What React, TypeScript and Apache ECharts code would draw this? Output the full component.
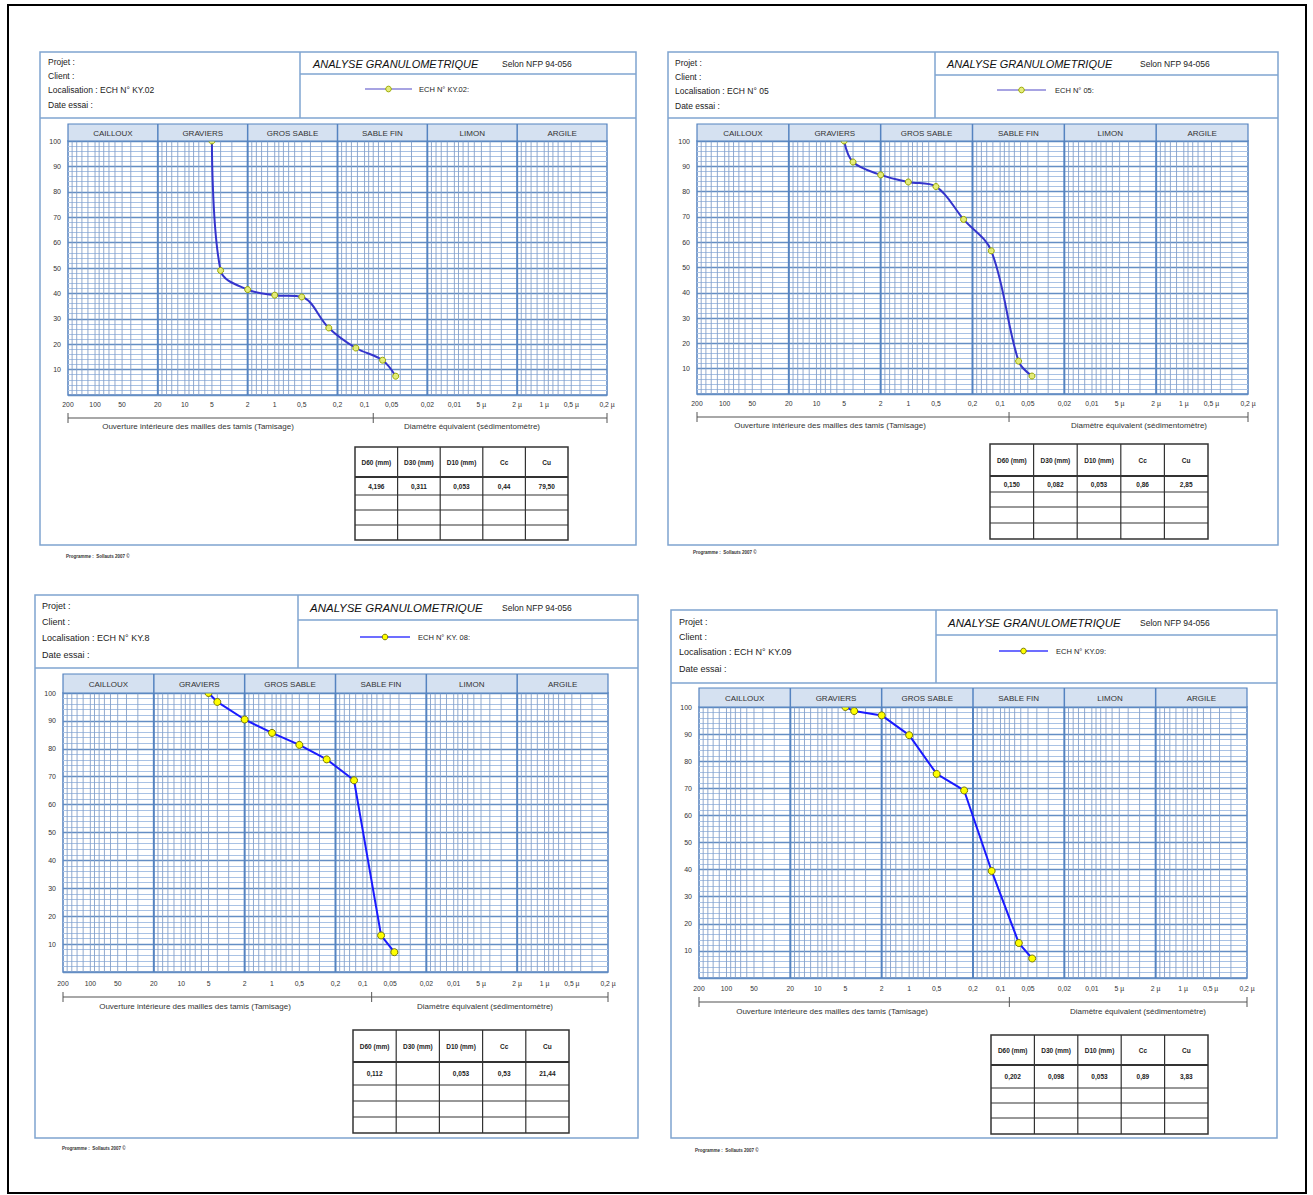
import React, { useEffect, useRef } from 'react';
import * as echarts from 'echarts';

const W = 1313;
const H = 1195;
const FONT = "'Liberation Sans', Arial, sans-serif";

// ---- data ----
const sieveSizes = [5, 4, 2, 1, 0.5, 0.25, 0.125, 0.063, 0.045];
const passingKY02 = [100, 49, 41.5, 39.3, 38.6, 26.4, 18.5, 13.7, 7.4];
const passing05 = [100, 91.7, 86.6, 83.8, 82, 69, 56.6, 13, 7.1];
const passingKY08 = [100, 96.8, 90.5, 85.7, 81.4, 76.2, 68.7, 13.1, 7.1];
const passingKY09 = [100, 98.5, 96.9, 89.6, 75.3, 69.2, 39.5, 12.9, 7.2];

const sampleNames = ['ECH N° KY.02:', 'ECH N° 05:', 'ECH N° KY. 08:', 'ECH N° KY.09:'];
const locations = ['ECH N° KY.02', 'ECH N° 05', 'ECH N° KY.8', 'ECH N° KY.09'];

const tableHeaders = ['D60 (mm)', 'D30 (mm)', 'D10 (mm)', 'Cc', 'Cu'];
const tableKY02 = ['4,196', '0,311', '0,053', '0,44', '79,50'];
const table05 = ['0,150', '0,082', '0,053', '0,86', '2,85'];
const tableKY08 = ['0,112', '', '0,053', '0,53', '21,44'];
const tableKY09 = ['0,202', '0,098', '0,053', '0,89', '3,83'];

const sectionNames = ['CAILLOUX', 'GRAVIERS', 'GROS SABLE', 'SABLE FIN', 'LIMON', 'ARGILE'];
const sectionBounds = [200, 20, 2, 0.2, 0.02, 0.002, 0.0002];
const xTickValues = [200, 100, 50, 20, 10, 5, 2, 1, 0.5, 0.2, 0.1, 0.05, 0.02, 0.01, 0.005, 0.002, 0.001, 0.0005, 0.0002];
const xTickLabels = ['200', '100', '50', '20', '10', '5', '2', '1', '0,5', '0,2', '0,1', '0,05', '0,02', '0,01', '5 µ', '2 µ', '1 µ', '0,5 µ', '0,2 µ'];
const minorMultipliers = [3, 4, 5, 6, 7, 8, 9, 10, 12, 14, 16, 18];
const sieveLimit = 0.08;
const headerLabels = ['Projet :', 'Client :', 'Localisation : ', 'Date essai :'];

// ---- layout ----
const layouts = [
  {
    frame: [40, 52, 596, 493], split: 300, titleBottom: 74, headBottom: 118,
    headX: 48, headYs: [62, 76, 90, 105], headSize: 8.5,
    title: [313, 64], titleSize: 11, selon: [502, 64],
    legend: [365, 412, 89, 419],
    plot: [68, 141, 539, 254], stripTop: 124,
    tickY: 404, bracketY: 418, noteY: 426, notesX: [198, 472],
    table: [355, 447, 213], rows: [30, 18, 15, 15, 15], footer: [66, 556],
    smooth: true, lineColor: '#3434cc', legendColor: '#8a84d8', markerFill: '#e4ec7a', markerStroke: '#9aa800',
  },
  {
    frame: [668, 52, 610, 493], split: 935, titleBottom: 75, headBottom: 118,
    headX: 675, headYs: [63, 77, 91, 106], headSize: 8.5,
    title: [947, 64], titleSize: 11, selon: [1140, 64],
    legend: [997, 1046, 90, 1055],
    plot: [697, 141, 551, 253], stripTop: 124,
    tickY: 403, bracketY: 417, noteY: 425, notesX: [830, 1139],
    table: [990, 444, 218], rows: [32, 16, 15, 16, 16], footer: [693, 552],
    smooth: true, lineColor: '#3434cc', legendColor: '#8a84d8', markerFill: '#e4ec7a', markerStroke: '#9aa800',
  },
  {
    frame: [35, 595, 603, 543], split: 298, titleBottom: 620, headBottom: 668,
    headX: 42, headYs: [606, 622, 638, 655], headSize: 9,
    title: [310, 608], titleSize: 11.5, selon: [502, 608],
    legend: [360, 410, 637, 418],
    plot: [63, 693, 545, 279], stripTop: 674,
    tickY: 983, bracketY: 997, noteY: 1006, notesX: [195, 485],
    table: [353, 1030, 216], rows: [32, 23, 16, 16, 16], footer: [62, 1148],
    smooth: false, lineColor: '#1a1aff', legendColor: '#3c3cff', markerFill: '#ffff00', markerStroke: '#7a7a00',
  },
  {
    frame: [671, 610, 606, 528], split: 936, titleBottom: 635, headBottom: 683,
    headX: 679, headYs: [622, 637, 652, 669], headSize: 9,
    title: [948, 623], titleSize: 11.5, selon: [1140, 623],
    legend: [999, 1048, 651, 1056],
    plot: [699, 707, 548, 271], stripTop: 688,
    tickY: 988, bracketY: 1002, noteY: 1011, notesX: [832, 1138],
    table: [991, 1035, 217], rows: [30, 23, 15, 15, 16], footer: [695, 1150],
    smooth: false, lineColor: '#1a1aff', legendColor: '#3c3cff', markerFill: '#ffff00', markerStroke: '#7a7a00',
  },
];

export default function App() {
  const ref = useRef<HTMLDivElement>(null);

  useEffect(() => {
    if (!ref.current) return;
    document.body.style.margin = '0';
    const chart = echarts.init(ref.current, undefined, { renderer: 'svg' });
    const passing = [passingKY02, passing05, passingKY08, passingKY09];
    const tables = [tableKY02, table05, tableKY08, tableKY09];

    const verticalLines: number[][] = [];
    for (let s = 0; s < sectionNames.length; s++) {
      const base = sectionBounds[s + 1] / 2;
      minorMultipliers.forEach((m) => verticalLines.push([base * m, 0]));
      if (s > 0) verticalLines.push([sectionBounds[s], 1]);
    }

    const series: any[] = [];
    layouts.forEach((L, i) => {
      series.push({
        type: 'custom', xAxisIndex: i, yAxisIndex: i, silent: true, clip: false, z: 1,
        data: verticalLines, encode: { x: 0, y: 1 },
        renderItem: (_p: any, api: any) => {
          const v = api.value(0);
          const major = api.value(1) === 1;
          const a = api.coord([v, 100]);
          const b = api.coord([v, 0]);
          return {
            type: 'line',
            shape: { x1: a[0], y1: a[1], x2: b[0], y2: b[1] },
            style: { stroke: major ? '#5583c0' : '#849fc8', lineWidth: major ? 2 : 0.9 },
          };
        },
      });
      series.push({
        type: 'line', name: sampleNames[i], xAxisIndex: i, yAxisIndex: i, silent: true, z: 5,
        data: sieveSizes.map((d, k) => [d, passing[i][k]]),
        smooth: L.smooth ? 0.35 : false,
        symbol: 'circle', symbolSize: L.smooth ? 6 : 7, showSymbol: true,
        lineStyle: { color: L.lineColor, width: 2 },
        itemStyle: { color: L.markerFill, borderColor: L.markerStroke, borderWidth: 1 },
      });
    });

    const option: any = {
      animation: false,
      backgroundColor: '#ffffff',
      grid: layouts.map((L) => ({
        left: L.plot[0], top: L.plot[1], width: L.plot[2], height: L.plot[3],
        show: true, backgroundColor: '#ffffff', borderColor: '#5583c0', borderWidth: 1.5,
      })),
      xAxis: layouts.map((_L, i) => ({
        type: 'log', logBase: 10, gridIndex: i, min: 0.0002, max: 200, inverse: true,
        axisLine: { show: false }, axisTick: { show: false }, axisLabel: { show: false }, splitLine: { show: false },
      })),
      yAxis: layouts.map((_L, i) => ({
        type: 'value', gridIndex: i, min: 0, max: 100, interval: 10,
        axisLine: { show: false }, axisTick: { show: false },
        axisLabel: {
          show: true, fontSize: 7, color: '#333', margin: 7, fontFamily: FONT,
          formatter: (v: number) => (v === 0 ? '' : String(v)),
        },
        splitLine: { show: true, lineStyle: { color: '#648ec4', width: 1.4 } },
        minorTick: { show: false, splitNumber: 5 },
        minorSplitLine: { show: true, lineStyle: { color: '#a9c2e4', width: 1.1 } },
      })),
      series,
    };
    chart.setOption(option);

    const els: any[] = [];
    const text = (x: number, y: number, t: string, o: any = {}) =>
      els.push({
        type: 'text', x, y, silent: true, z: 10,
        style: {
          text: t, fill: o.fill || '#222', fontSize: o.size || 8, fontFamily: FONT,
          fontStyle: o.italic ? 'italic' : 'normal', fontWeight: o.bold ? 'bold' : 'normal',
          align: o.align || 'left', verticalAlign: o.va || 'middle',
        },
      });
    const line = (x1: number, y1: number, x2: number, y2: number, stroke: string, w: number) =>
      els.push({ type: 'line', silent: true, z: 10, shape: { x1, y1, x2, y2 }, style: { stroke, lineWidth: w } });
    const rect = (x: number, y: number, w: number, h: number, stroke: string, lw: number, fill: string) =>
      els.push({ type: 'rect', silent: true, z: 9, shape: { x, y, width: w, height: h }, style: { stroke, lineWidth: lw, fill } });

    // outer page frame
    rect(8, 5, 1298, 1188, '#000', 2, 'none');

    const frameColor = '#7fa4d0';
    layouts.forEach((L, i) => {
      const px = (v: number, y: number) => chart.convertToPixel({ gridIndex: i }, [v, y]) as number[];
      const [fx, fy, fw, fh] = L.frame;
      rect(fx, fy, fw, fh, frameColor, 1.5, 'none');
      line(fx, L.headBottom, fx + fw, L.headBottom, frameColor, 1.5);
      line(L.split, fy, L.split, L.headBottom, frameColor, 1.5);
      line(L.split, L.titleBottom, fx + fw, L.titleBottom, frameColor, 1.5);

      headerLabels.forEach((h, k) => text(L.headX, L.headYs[k], k === 2 ? h + locations[i] : h, { size: L.headSize }));
      text(L.title[0], L.title[1], 'ANALYSE GRANULOMETRIQUE', { size: L.titleSize, italic: true, fill: '#111' });
      text(L.selon[0], L.selon[1], 'Selon NFP 94-056', { size: 8.5 });

      const [lx1, lx2, ly, ltx] = L.legend;
      line(lx1, ly, lx2, ly, L.legendColor, 1.5);
      els.push({
        type: 'circle', silent: true, z: 11, shape: { cx: (lx1 + lx2) / 2, cy: ly, r: 2.8 },
        style: { fill: L.markerFill, stroke: L.markerStroke, lineWidth: 1 },
      });
      text(ltx, ly, sampleNames[i], { size: 7.5 });

      // section strip
      const pl = L.plot[0];
      const pr = L.plot[0] + L.plot[2];
      const pt = L.plot[1];
      rect(pl, L.stripTop, pr - pl, pt - L.stripTop, '#5583c0', 1.2, '#d5e1f1');
      for (let s = 0; s < sectionNames.length; s++) {
        const xa = px(sectionBounds[s], 50)[0];
        const xb = px(sectionBounds[s + 1], 50)[0];
        if (s > 0) line(xa, L.stripTop, xa, pt, '#5583c0', 1.5);
        text((xa + xb) / 2, (L.stripTop + pt) / 2 + 0.5, sectionNames[s], { size: 8, align: 'center', fill: '#333' });
      }

      // x tick labels
      xTickValues.forEach((v, k) => {
        const x = px(v, 0)[0];
        text(x, L.tickY, xTickLabels[k], { size: 6.8, align: 'center', fill: '#333' });
      });

      // bracket
      const xStart = px(200, 0)[0];
      const xMid = px(sieveLimit, 0)[0];
      const xEnd = px(0.0002, 0)[0];
      line(xStart, L.bracketY, xEnd, L.bracketY, '#a8a8a8', 2);
      [xStart, xMid, xEnd].forEach((x) => line(x, L.bracketY - 5, x, L.bracketY + 5, '#555', 1));
      text(L.notesX[0], L.noteY, 'Ouverture intérieure des mailles des tamis (Tamisage)', { size: 8, align: 'center', fill: '#333' });
      text(L.notesX[1], L.noteY, 'Diamètre équivalent (sédimentomètre)', { size: 8, align: 'center', fill: '#333' });

      // table
      const [tx, ty, tw] = L.table;
      const cw = tw / tableHeaders.length;
      const th = L.rows.reduce((a, b) => a + b, 0);
      rect(tx, ty, tw, th, '#333', 1.5, '#fff');
      let yy = ty;
      L.rows.forEach((rh, r) => {
        if (r > 0) line(tx, yy, tx + tw, yy, '#333', r === 1 ? 2 : 1.2);
        yy += rh;
      });
      for (let c = 1; c < tableHeaders.length; c++) line(tx + c * cw, ty, tx + c * cw, ty + th, '#333', 1.2);
      tableHeaders.forEach((h, c) => text(tx + (c + 0.5) * cw, ty + L.rows[0] / 2, h, { size: 6.5, align: 'center', bold: true, fill: '#222' }));
      tables[i].forEach((v, c) => {
        if (v) text(tx + (c + 0.5) * cw, ty + L.rows[0] + L.rows[1] / 2, v, { size: 6.5, align: 'center', bold: true, fill: '#222' });
      });

      text(L.footer[0], L.footer[1], 'Programme :  Sollauts 2007 ©', { size: 4.5, bold: true, fill: '#333' });
    });

    chart.setOption({ graphic: { elements: els } });

    return () => chart.dispose();
  }, []);

  return <div ref={ref} style={{ position: 'fixed', left: 0, top: 0, width: W, height: H, background: '#fff' }} />;
}
